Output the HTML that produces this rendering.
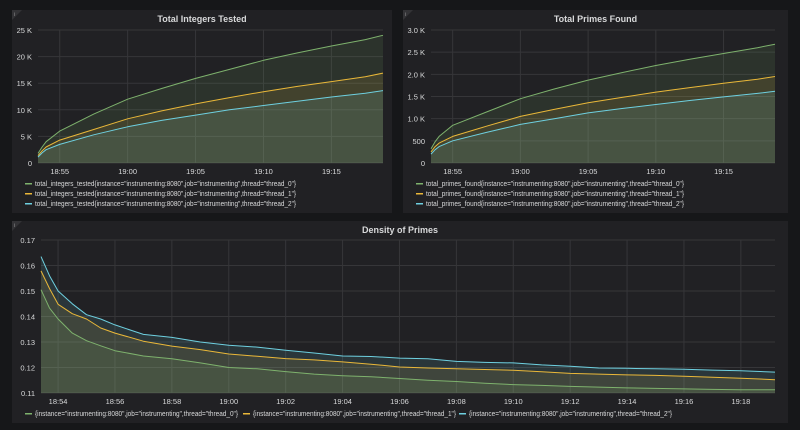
<!DOCTYPE html>
<html><head><meta charset="utf-8"><style>
html,body{margin:0;padding:0;background:#161719;width:800px;height:430px;overflow:hidden;font-family:"Liberation Sans",sans-serif;}
svg{position:absolute;left:0;top:0}
</style></head><body>
<svg id="c" width="800" height="430"></svg>
<script>
// Top panels: time in minutes after 18:00
const topTimes=[53.4,53.7,54,55,57.5,60,62.5,65,67.5,70,72.5,75,77.5,78.8];
const intThread0=[1.8,3.0,4.0,6,9.2,12,14,15.9,17.6,19.3,20.7,22,23.2,24.0];
const intThread1=[1.4,2.3,3.0,4.3,6.3,8.3,9.8,11.1,12.3,13.4,14.4,15.3,16.2,16.9];
const intThread2=[1.1,1.9,2.5,3.5,5.3,6.8,8,9,10,10.8,11.6,12.4,13.1,13.6];
const primeThread0=[0.32,0.48,0.6,0.85,1.15,1.45,1.67,1.87,2.04,2.2,2.34,2.47,2.6,2.68];
const primeThread1=[0.25,0.37,0.45,0.6,0.83,1.05,1.21,1.36,1.48,1.6,1.7,1.8,1.89,1.95];
const primeThread2=[0.2,0.3,0.37,0.5,0.69,0.87,1.0,1.13,1.23,1.32,1.41,1.49,1.57,1.62];
const intTicks=[0,5,10,15,20,25];
const intTickLabels=["0","5 K","10 K","15 K","20 K","25 K"];
const primeTicks=[0,0.5,1,1.5,2,2.5,3];
const primeTickLabels=["0","500","1.0 K","1.5 K","2.0 K","2.5 K","3.0 K"];
const topXTicks=[55,60,65,70,75];
const topXLabels=["18:55","19:00","19:05","19:10","19:15"];
// Density
const densTimes=[53.4,53.7,54,54.5,55,55.5,56,57,58,59,60,61,62,63,64,65,66,67,68,69,70,71,72,73,74,75,76,77,78,79.2];
const densThread0=[0.1505,0.1433,0.139,0.1335,0.1305,0.1285,0.1266,0.1245,0.1234,0.1218,0.1200,0.1195,0.1184,0.1174,0.1168,0.1164,0.1157,0.1150,0.1145,0.1138,0.1133,0.1130,0.1126,0.1123,0.1120,0.1118,0.1116,0.1114,0.1113,0.1113];
const densThread1=[0.1579,0.151,0.1448,0.1411,0.1390,0.1355,0.1335,0.1303,0.1284,0.1270,0.1253,0.1244,0.1235,0.1230,0.1222,0.1213,0.1202,0.1198,0.1195,0.1192,0.1189,0.1183,0.1177,0.1174,0.1171,0.1169,0.1166,0.1162,0.1158,0.1152];
const densThread2=[0.1635,0.156,0.150,0.145,0.1407,0.139,0.1367,0.133,0.1318,0.130,0.1287,0.128,0.1268,0.1257,0.1245,0.1243,0.1237,0.1234,0.1224,0.122,0.1218,0.121,0.1205,0.1198,0.1197,0.1195,0.1193,0.119,0.1187,0.1182];
const densTicks=[0.11,0.12,0.13,0.14,0.15,0.16,0.17];
const densTickLabels=["0.11","0.12","0.13","0.14","0.15","0.16","0.17"];
const densXTicks=[54,56,58,60,62,64,66,68,70,72,74,76,78];
const densXLabels=["18:54","18:56","18:58","19:00","19:02","19:04","19:06","19:08","19:10","19:12","19:14","19:16","19:18"];
const colors=["#7eb26d","#eab839","#6ed0e0"];

const NS="http://www.w3.org/2000/svg";
const svg=document.getElementById('c');
function mk(tag,attrs,parent,text){const e=document.createElementNS(NS,tag);for(const k in attrs)e.setAttribute(k,attrs[k]);if(text!==undefined)e.textContent=text;(parent||svg).appendChild(e);return e;}

function panel(cfg){
  const g=mk('g',{});
  
  
  const bg=mk('rect',{x:cfg.px,y:cfg.py,width:cfg.pw,height:cfg.ph,fill:'#212124'},g);
  
  
  const corner=mk('path',{d:`M${cfg.px} ${cfg.py}h10l-10 10z`,fill:'#333336'},g);
  
  
  mk('text',{x:cfg.px+2,y:cfg.py+6,fill:'#999','font-size':5},g,'i');
  const t=mk('text',{x:cfg.px+cfg.pw/2,y:cfg.py+12,fill:'#d8d9da','font-size':9,'font-weight':'bold','text-anchor':'middle'},g,cfg.title);
  
  
  const X=v=>cfg.x0+(v-cfg.t0)/(cfg.t1-cfg.t0)*(cfg.x1-cfg.x0);
  const Y=v=>cfg.y1-(v-cfg.v0)/(cfg.v1-cfg.v0)*(cfg.y1-cfg.y0);
  cfg.yTicks.forEach((v,i)=>{
    const l=mk('line',{x1:cfg.x0,x2:cfg.x1,y1:Y(v),y2:Y(v),stroke:'#363639','stroke-width':1},g);
    
    
    const tx=mk('text',{x:cfg.x0-6,y:Y(v)+3,fill:'#d8d9da','font-size':7.5,'text-anchor':'end'},g,cfg.yLabels[i]);
    
    
  });
  cfg.xTicks.forEach((v,i)=>{
    const l=mk('line',{x1:X(v),x2:X(v),y1:cfg.y0,y2:cfg.y1,stroke:'#363639','stroke-width':1},g);
    
    
    const tx=mk('text',{x:X(v),y:cfg.y1+11,fill:'#d8d9da','font-size':7.5,'text-anchor':'middle'},g,cfg.xLabels[i]);
    
    
  });
  cfg.series.forEach((s,si)=>{
    const pts=s.map((v,i)=>[X(cfg.times[i]),Y(v)]);
    const line='M'+pts.map(p=>p[0].toFixed(1)+' '+p[1].toFixed(1)).join('L');
    const area=mk('path',{d:line+`L${pts[pts.length-1][0]} ${cfg.y1}L${pts[0][0]} ${cfg.y1}Z`,fill:colors[si],'fill-opacity':0.12},g);
    
    
  });
  cfg.series.forEach((s,si)=>{
    const pts=s.map((v,i)=>[X(cfg.times[i]),Y(v)]);
    const line='M'+pts.map(p=>p[0].toFixed(1)+' '+p[1].toFixed(1)).join('L');
    const ln=mk('path',{d:line,fill:'none',stroke:colors[si],'stroke-width':1,'stroke-linejoin':'round'},g);
    
    
  });
  cfg.legend.forEach((lg,i)=>{
    const lgG=mk('g',{},g);
    
    
    mk('rect',{x:lg[0],y:lg[1]-3,width:7,height:1.5,fill:colors[i]},lgG);
    mk('text',{x:lg[0]+10,y:lg[1],fill:'#d8d9da','font-size':7,textLength:lg[3],lengthAdjust:'spacingAndGlyphs'},lgG,lg[2]);
  });
}
const lab=(p,i)=>`${p}{instance="instrumenting:8080",job="instrumenting",thread="thread_${i}"}`;
panel({name:'total-integers-panel',title:'Total Integers Tested',px:12,py:10,pw:380,ph:203,
  x0:38,x1:383,y0:30,y1:163,t0:53.4,t1:78.8,v0:0,v1:25,times:topTimes,
  series:[intThread0,intThread1,intThread2],yTicks:intTicks,yLabels:intTickLabels,xTicks:topXTicks,xLabels:topXLabels,
  legend:[[25,186,lab('total_integers_tested',0),261],[25,196,lab('total_integers_tested',1),261],[25,206,lab('total_integers_tested',2),261]]});
panel({name:'total-primes-panel',title:'Total Primes Found',px:403,py:10,pw:385,ph:203,
  x0:431,x1:775,y0:30,y1:163,t0:53.4,t1:78.8,v0:0,v1:3,times:topTimes,
  series:[primeThread0,primeThread1,primeThread2],yTicks:primeTicks,yLabels:primeTickLabels,xTicks:topXTicks,xLabels:topXLabels,
  legend:[[416,186,lab('total_primes_found',0),258],[416,196,lab('total_primes_found',1),258],[416,206,lab('total_primes_found',2),258]]});
panel({name:'density-panel',title:'Density of Primes',px:12,py:221,pw:776,ph:202,
  x0:41,x1:775,y0:240,y1:393,t0:53.4,t1:79.2,v0:0.11,v1:0.17,times:densTimes,
  series:[densThread0,densThread1,densThread2],yTicks:densTicks,yLabels:densTickLabels,xTicks:densXTicks,xLabels:densXLabels,
  legend:[[25,416,lab('',0),203],[243,416,lab('',1),203],[459,416,lab('',2),203]]});
</script>
</body></html>
